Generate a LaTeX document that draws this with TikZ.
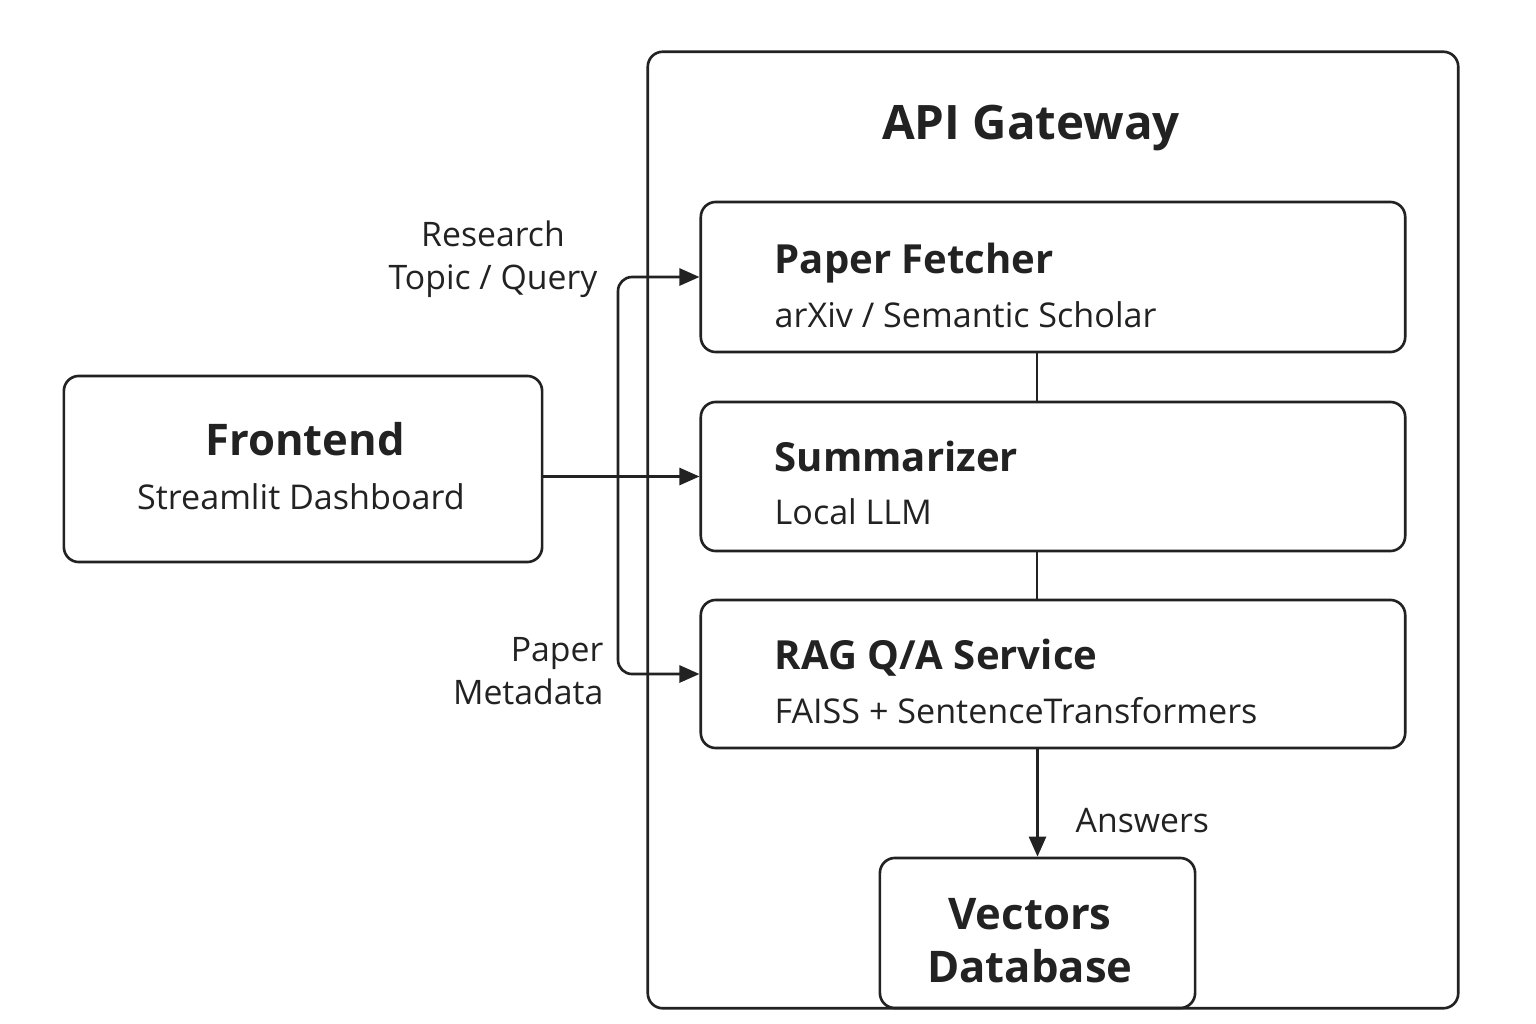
\documentclass[tikz,border=0pt]{standalone}
\usepackage{fontspec}
\setmainfont{Open Sans}
\usetikzlibrary{arrows.meta}

\definecolor{ink}{HTML}{222222}

\tikzset{
  box/.style={draw=ink, line width=0.75pt, rounded corners=0.15cm, inner sep=0pt},
  arr/.style={draw=ink, line width=0.75pt, -{Triangle[length=0.2cm,width=0.17cm]}},
  link/.style={draw=ink, line width=0.75pt},
  title/.style={text=ink, font=\fontsize{11.4}{13}\selectfont\bfseries, anchor=base west, inner sep=0pt},
  sub/.style={text=ink, font=\fontsize{9.7}{11}\selectfont, anchor=base west, inner sep=0pt},
  lbl/.style={text=ink, font=\fontsize{9.6}{12.2}\selectfont, inner sep=0pt}
}

\begin{document}
\begin{tikzpicture}[x=0.01cm, y=-0.01cm]
        \useasboundingbox (0,0) rectangle (1536,1024);

        % gateway
        \node[box, minimum width=8.1cm, minimum height=9.56cm] (gw) at (1053,530) {};
        \node[text=ink, font=\fontsize{13.5}{15}\selectfont\bfseries] (gwt) at (1031,128) {API Gateway};

        % services
        \node[box, minimum width=7.04cm, minimum height=1.5cm] (fetch) at (1053,277) {};
        \node[title] (fetcht) at (774,273) {Paper Fetcher};
        \node[sub] (fetchs) at (774,327) {arXiv / Semantic Scholar};

        \node[box, minimum width=7.04cm, minimum height=1.49cm] (summ) at (1053,476.5) {};
        \node[title] (summt) at (774,471) {Summarizer};
        \node[sub] (summs) at (774,524) {Local LLM};

        \node[box, minimum width=7.04cm, minimum height=1.48cm] (rag) at (1053,674) {};
        \node[title] (ragt) at (774,669) {RAG Q/A Service};
        \node[sub] (rags) at (774,723) {FAISS + SentenceTransformers};

        \node[box, minimum width=3.15cm, minimum height=1.5cm] (vdb) at (1037.5,933) {};
        \node[text=ink, align=center, font=\fontsize{12.4}{15}\selectfont\bfseries] (vdbt) at (1030,941) {Vectors\\Database};

        % frontend
        \node[box, minimum width=4.78cm, minimum height=1.86cm] (front) at (303,469) {};
        \node[text=ink, font=\fontsize{12.4}{14}\selectfont\bfseries] (frontt) at (305,439) {Frontend};
        \node[text=ink, font=\fontsize{9.7}{11}\selectfont] (fronts) at (301,497) {Streamlit Dashboard};

        % labels
        \node[lbl, align=center] (qlbl) at (493,259) {Research\\Topic / Query};
        \node[lbl, align=right, anchor=east] (mlbl) at (604,671) {Paper\\Metadata};
        \node[lbl, anchor=west] (albl) at (1075,821) {Answers};

        % connectors
        \coordinate (split) at (618,476.5);
        \draw[arr] (front.east |- summ.west) -- (summ.west);
        \draw[arr, rounded corners=0.14cm] (split) |- (fetch.west);
        \draw[arr, rounded corners=0.14cm] (split) |- (rag.west);
        \draw[link] (fetch.south -| 1037,0) -- (summ.north -| 1037,0);
        \draw[link] (summ.south -| 1037,0) -- (rag.north -| 1037,0);
        \draw[arr] (rag.south -| vdb.north) -- (vdb.north);
    \end{tikzpicture}
\end{document}
